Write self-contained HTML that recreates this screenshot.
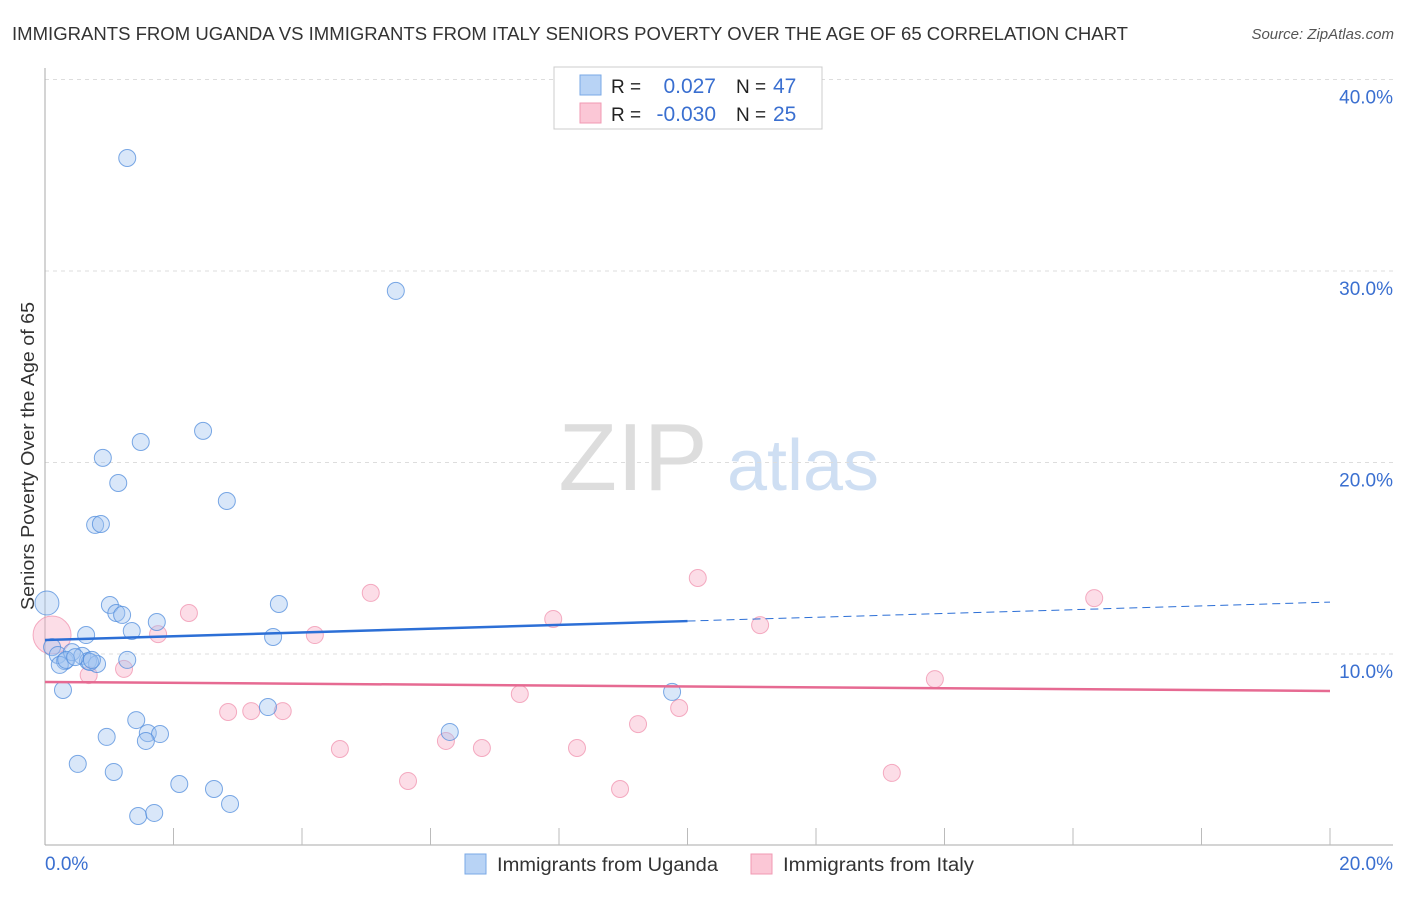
<!DOCTYPE html>
<html><head><meta charset="utf-8"><style>
body{margin:0;background:#fff;font-family:"Liberation Sans",sans-serif}
svg text{font-family:"Liberation Sans",sans-serif}
</style></head><body>
<svg id="chart" width="1406" height="892">
<text x="12" y="40" font-size="18" fill="#333" textLength="1116" lengthAdjust="spacingAndGlyphs">IMMIGRANTS FROM UGANDA VS IMMIGRANTS FROM ITALY SENIORS POVERTY OVER THE AGE OF 65 CORRELATION CHART</text>
<text x="1394" y="39" font-size="15" fill="#555" font-style="italic" text-anchor="end">Source: ZipAtlas.com</text>
<text x="34" y="456" font-size="18" fill="#333" text-anchor="middle" textLength="308" lengthAdjust="spacingAndGlyphs" transform="rotate(-90 34 456)">Seniors Poverty Over the Age of 65</text>
<g><text x="633" y="490" font-size="96" fill="#ddd" font-family="Liberation Serif" text-anchor="middle">ZIP</text><text x="803" y="490" font-size="72" fill="#cfdff3" text-anchor="middle">atlas</text></g>
<g id="grid"></g><g id="axes"></g><g id="marks"></g>
<g>
<rect x="554" y="67" width="268" height="62" fill="#fff" stroke="#ccc"/>
<rect x="580" y="75" width="21" height="20" fill="#b8d3f5" stroke="#7aa8e6"/>
<rect x="580" y="103" width="21" height="20" fill="#fbc7d6" stroke="#f09ab3"/>
<text x="611" y="93" font-size="19" fill="#222">R =</text><text x="716" y="93" font-size="21" fill="#3a6fd0" text-anchor="end">0.027</text>
<text x="736" y="93" font-size="19" fill="#222">N =</text><text x="773" y="93" font-size="21" fill="#3a6fd0">47</text>
<text x="611" y="121" font-size="19" fill="#222">R =</text><text x="716" y="121" font-size="21" fill="#3a6fd0" text-anchor="end">-0.030</text>
<text x="736" y="121" font-size="19" fill="#222">N =</text><text x="773" y="121" font-size="21" fill="#3a6fd0">25</text>
</g>
<g>
<rect x="465" y="854" width="21" height="20" fill="#b8d3f5" stroke="#7aa8e6"/>
<text x="497" y="871" font-size="19" fill="#333" textLength="221" lengthAdjust="spacingAndGlyphs">Immigrants from Uganda</text>
<rect x="751" y="854" width="21" height="20" fill="#fbc7d6" stroke="#f09ab3"/>
<text x="783" y="871" font-size="19" fill="#333" textLength="191" lengthAdjust="spacingAndGlyphs">Immigrants from Italy</text>
</g>
</svg>
<script>
const yTicks=[10,20,30,40];
const yTickLabels=["10.0%","20.0%","30.0%","40.0%"];
const xTickLabels=["0.0%","20.0%"];
const ugandaX=[1.28,5.46,1.49,2.46,0.90,1.14,2.83,0.78,0.87,0.03,1.01,1.11,1.20,1.74,3.64,1.35,3.55,0.64,0.11,0.20,0.31,0.42,0.58,0.67,0.81,1.28,0.23,0.70,0.28,9.76,3.47,1.42,0.96,1.60,1.79,1.57,6.30,0.51,1.07,2.09,2.63,2.88,1.45,1.70,0.33,0.47,0.73];
const ugandaY=[35.9,28.96,21.07,21.65,20.24,18.93,17.99,16.74,16.79,12.66,12.56,12.14,12.04,11.67,12.61,11.2,10.89,10.99,10.36,9.95,9.63,10.1,9.9,9.63,9.48,9.69,9.43,9.58,8.12,8.02,7.23,6.55,5.67,5.87,5.82,5.46,5.93,4.26,3.84,3.21,2.95,2.17,1.54,1.70,9.69,9.84,9.69];
const italyX=[0.11,0.68,1.23,1.76,2.24,2.85,3.21,3.70,4.20,4.59,5.07,5.65,6.24,6.80,7.39,7.91,8.28,8.95,9.23,9.87,10.16,11.13,13.18,13.85,16.33];
const italyY=[10.99,8.90,9.22,11.04,12.14,6.97,7.02,7.02,10.99,5.04,13.19,3.37,5.46,5.09,7.91,11.83,5.09,2.95,6.34,7.18,13.97,11.51,3.79,8.69,12.92];
const ugandaTrend=[10.73,12.71];
const italyTrend=[8.54,8.07];
const NS="http://www.w3.org/2000/svg";
const X=v=>45+v*64.25, Y=v=>845.5-v*19.15;
function mk(tag,attrs,parent){const e=document.createElementNS(NS,tag);for(const k in attrs)e.setAttribute(k,attrs[k]);document.getElementById(parent).appendChild(e);return e;}
yTicks.forEach((t,i)=>{
 const g=mk('line',{x1:45,x2:1393,y1:Y(t),y2:Y(t),stroke:'#ddd','stroke-dasharray':'4,4'},'grid');
 
 
 const l=mk('text',{x:1393,y:Y(t)+24,'font-size':19,fill:'#3a6fd0','text-anchor':'end'},'grid');l.textContent=yTickLabels[i];
 
 
});
mk('line',{x1:45,x2:45,y1:68,y2:845,stroke:'#aaa'},'axes');
mk('line',{x1:45,x2:1393,y1:845,y2:845,stroke:'#aaa'},'axes');
for(let i=1;i<=10;i++){const t=mk('line',{x1:X(i*2),x2:X(i*2),y1:828,y2:845,stroke:'#bbb'},'axes');}
let a=mk('text',{x:45,y:870,'font-size':19,fill:'#3a6fd0'},'axes');a.textContent=xTickLabels[0];


a=mk('text',{x:1393,y:870,'font-size':19,fill:'#3a6fd0','text-anchor':'end'},'axes');a.textContent=xTickLabels[1];


italyX.forEach((v,i)=>{const c=mk('circle',{cx:X(v),cy:Y(italyY[i]),r:i==0?19:8.5,fill:'rgba(248,170,195,0.4)',stroke:'rgba(240,140,170,0.7)','stroke-width':1},'marks');
 
 });
ugandaX.forEach((v,i)=>{const c=mk('circle',{cx:X(v),cy:Y(ugandaY[i]),r:i==9?12:8.5,fill:'rgba(160,196,240,0.4)',stroke:'rgba(80,140,220,0.75)','stroke-width':1},'marks');
 
 });
const ym=(ugandaTrend[0]+ugandaTrend[1])/2;
let t=mk('line',{x1:X(0),y1:Y(ugandaTrend[0]),x2:X(10),y2:Y(ym),stroke:'#2c6fd6','stroke-width':2.5},'marks');


t=mk('line',{x1:X(10),y1:Y(ym),x2:X(20),y2:Y(ugandaTrend[1]),stroke:'#2c6fd6','stroke-width':1,'stroke-dasharray':'8,5'},'marks');


t=mk('line',{x1:X(0),y1:Y(italyTrend[0]),x2:X(20),y2:Y(italyTrend[1]),stroke:'#e66a92','stroke-width':2.5},'marks');


</script>
</body></html>
